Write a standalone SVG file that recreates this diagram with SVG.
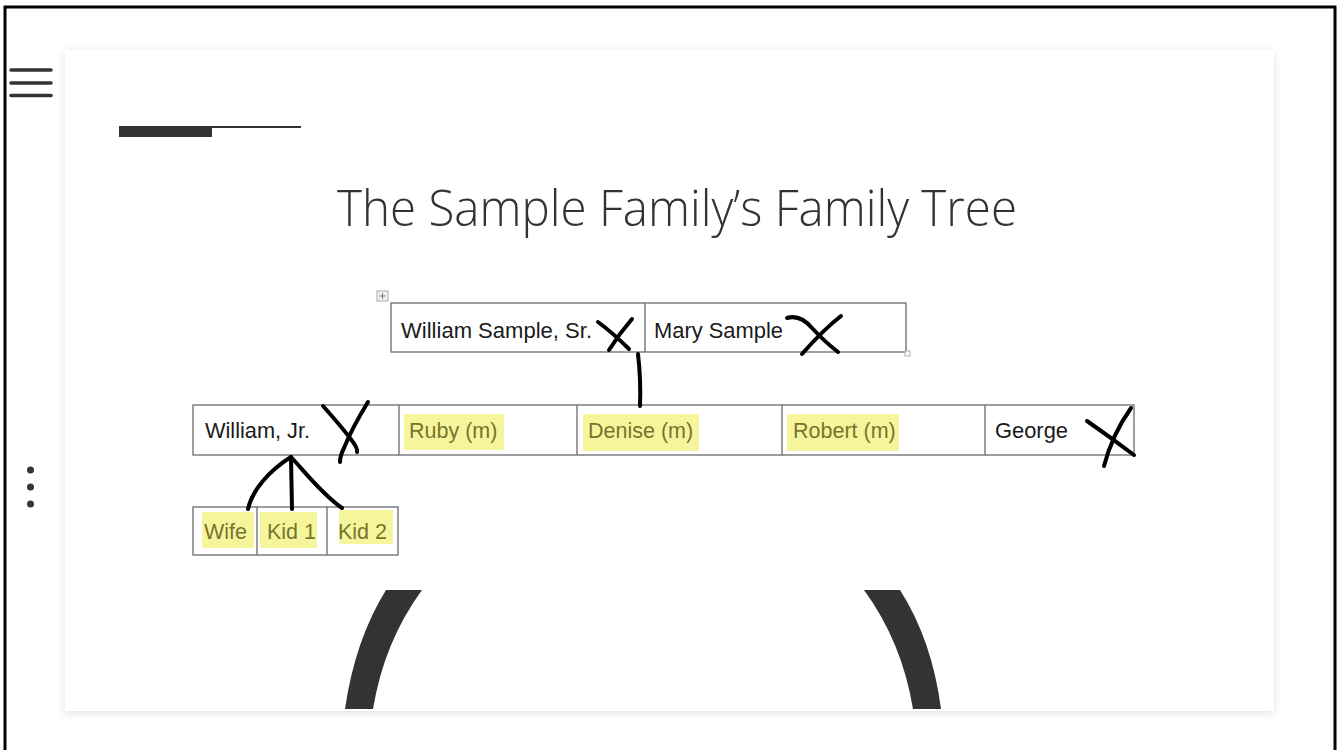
<svg xmlns="http://www.w3.org/2000/svg" width="1339" height="750" viewBox="0 0 1339 750">
<defs>
<filter id="shadow" x="-5%" y="-5%" width="110%" height="110%">
<feDropShadow dx="0" dy="2" stdDeviation="4" flood-color="#000" flood-opacity="0.12"/>
</filter>
<clipPath id="cardclip"><rect x="65" y="50" width="1209" height="661"/></clipPath>
</defs>
<style>
.cell{fill:#fff;stroke:#6a6a6a;stroke-width:1.3}
.div{stroke:#6a6a6a;stroke-width:1.3}
.t{font-family:"Liberation Sans",Arial,sans-serif;font-size:21.5px;fill:#1a1a1a}
.hl{fill:#f7f59c}
.ht{font-family:"Liberation Sans",Arial,sans-serif;font-size:21.5px;fill:#77742e}
.ink{fill:none;stroke:#000;stroke-width:4;stroke-linecap:round;stroke-linejoin:round}
.menu{stroke:#333;stroke-width:3.5;stroke-linecap:round}
</style>
<rect x="0" y="0" width="1339" height="750" fill="#fff"/>
<rect x="5" y="7" width="1330" height="770" fill="none" stroke="#000" stroke-width="3"/>

<g id="menu">
<line class="menu" x1="11" y1="70" x2="51" y2="70"/>
<line class="menu" x1="11" y1="83" x2="51" y2="83"/>
<line class="menu" x1="11" y1="95.5" x2="51" y2="95.5"/>
</g>
<g id="dots" fill="#333">
<circle cx="30.5" cy="470" r="3.5"/>
<circle cx="30.5" cy="487" r="3.5"/>
<circle cx="30.5" cy="504" r="3.5"/>
</g>

<rect id="card" x="65" y="50" width="1209" height="661" fill="#fff" filter="url(#shadow)"/>

<g id="accent">
<rect x="119" y="126" width="93" height="11" fill="#333"/>
<rect x="212" y="126" width="89" height="2" fill="#333"/>
</g>

<text id="title" x="677" y="226" text-anchor="middle" font-family="'Open Sans','Liberation Sans',sans-serif" font-weight="300" font-size="50" fill="#333" textLength="680" lengthAdjust="spacingAndGlyphs">The Sample Family’s Family Tree</text>

<g id="parents">
<rect x="377" y="291" width="11" height="10" fill="#f2f2f2" stroke="#aaa" stroke-width="1"/>
<path d="M382.5,293 V299 M379.5,296 H385.5" stroke="#777" stroke-width="1"/>
<rect class="cell" x="391" y="303" width="515" height="49"/>
<line class="div" x1="645" y1="303" x2="645" y2="352"/>
<rect x="905" y="351" width="5" height="5" fill="#fff" stroke="#aaa" stroke-width="1"/>
<text class="t" x="401" y="338" textLength="191" lengthAdjust="spacingAndGlyphs">William Sample, Sr.</text>
<text class="t" x="654" y="338" textLength="129" lengthAdjust="spacingAndGlyphs">Mary Sample</text>
<path class="ink" d="M598,322 Q613,333 629,349 M632,319 Q619,334 609,350"/>
<path class="ink" d="M787,318 Q800,314 812,328 Q825,342 838,352 M841,316 Q823,330 802,354"/>
</g>

<g id="children">
<rect class="cell" x="193" y="405" width="941" height="50"/>
<line class="div" x1="399" y1="405" x2="399" y2="455"/>
<line class="div" x1="577" y1="405" x2="577" y2="455"/>
<line class="div" x1="782" y1="405" x2="782" y2="455"/>
<line class="div" x1="985" y1="405" x2="985" y2="455"/>
<rect class="hl" x="404" y="414" width="100" height="36"/>
<rect class="hl" x="583" y="414" width="116" height="37"/>
<rect class="hl" x="787" y="414" width="112" height="37"/>
<text class="t" x="205" y="438" textLength="105" lengthAdjust="spacingAndGlyphs">William, Jr.</text>
<text class="ht" x="409" y="438">Ruby (m)</text>
<text class="ht" x="588" y="438">Denise (m)</text>
<text class="ht" x="793" y="438">Robert (m)</text>
<text class="t" x="995" y="438" textLength="73" lengthAdjust="spacingAndGlyphs">George</text>
<path class="ink" d="M323,406 Q340,425 350,438 Q358,448 357,452 M368,402 Q352,428 344,448 Q340,456 340,462"/>
<path class="ink" d="M1087,421 Q1110,437 1134,455 M1131,408 Q1112,435 1104,466"/>
</g>

<g id="grandchildren">
<rect class="cell" x="193" y="507" width="205" height="48"/>
<line class="div" x1="257" y1="507" x2="257" y2="555"/>
<line class="div" x1="327" y1="507" x2="327" y2="555"/>
<rect class="hl" x="202" y="512" width="52" height="36"/>
<rect class="hl" x="260" y="512" width="57" height="36"/>
<rect class="hl" x="339" y="510" width="54" height="34"/>
<text class="ht" x="204" y="539">Wife</text>
<text class="ht" x="267" y="539">Kid 1</text>
<text class="ht" x="338" y="539">Kid 2</text>
</g>

<g id="connectors">
<path class="ink" d="M638,354 Q641,380 640,406"/>
<path class="ink" d="M291,457 C270,470 252,490 248,509"/>
<path class="ink" d="M291,457 L292,509"/>
<path class="ink" d="M291,457 C305,472 322,494 342,508"/>
</g>

<g id="parens" fill="#333" clip-path="url(#cardclip)">
<path d="M386,590 L422,590 Q384,642 373,709 L345,709 Q355,640 386,590 Z"/>
<path d="M864,590 L900,590 Q932,640 941,709 L913,709 Q902,642 864,590 Z"/>
</g>
</svg>
